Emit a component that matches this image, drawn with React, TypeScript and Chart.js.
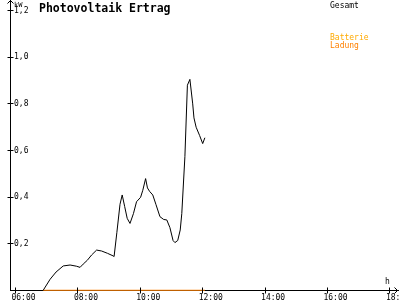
import React, { useEffect, useRef } from "react";
import { Chart, registerables } from "chart.js";

Chart.register(...registerables);

// Time of day in hours, value in kW
const gesamtTimes = [
  6.88, 7.11, 7.3, 7.53, 7.75, 7.95, 8.07, 8.17, 8.3, 8.44, 8.6, 8.76, 8.95, 9.13, 9.16,
  9.25, 9.35, 9.42, 9.5, 9.58, 9.67, 9.78, 9.88, 10.01, 10.08, 10.17, 10.23, 10.3, 10.4,
  10.5, 10.63, 10.75, 10.85, 10.95, 11.05, 11.11, 11.2, 11.28, 11.33, 11.43, 11.51, 11.59,
  11.68, 11.72, 11.79, 11.9, 12.0, 12.07,
];
const gesamtValues = [
  0, 0.049, 0.08, 0.106, 0.11, 0.105, 0.1, 0.114, 0.13, 0.153, 0.174, 0.17, 0.16, 0.149, 0.146,
  0.25, 0.37, 0.41, 0.36, 0.31, 0.288, 0.33, 0.381, 0.4, 0.43, 0.48, 0.44, 0.425, 0.41,
  0.37, 0.317, 0.305, 0.303, 0.27, 0.215, 0.206, 0.215, 0.26, 0.33, 0.574, 0.88, 0.905,
  0.8, 0.74, 0.7, 0.665, 0.63, 0.655,
];
const batterieTimes = [6.88, 12.07];
const batterieValues = [0, 0];

const xTickHours = [6, 8, 10, 12, 14, 16, 18];
const yTickValues = [0.2, 0.4, 0.6, 0.8, 1.0, 1.2];

const titleText = "Photovoltaik Ertrag";
const legendGesamt = "Gesamt";
const legendBatterie1 = "Batterie";
const legendBatterie2 = "Ladung";
const yUnit = "kW";
const xUnit = "h";

const MONO = '"DejaVu Sans Mono", monospace';

const decorPlugin = {
  id: "decor",
  afterDraw(chart: any) {
    const ctx = chart.ctx;
    const area = chart.chartArea;
    const xs = chart.scales.x;
    const ys = chart.scales.y;
    const ax = Math.round(area.left - 0.5) + 0.5;
    const ay = Math.round(area.bottom - 0.5) + 0.5;
    ctx.save();
    ctx.strokeStyle = "#000";
    ctx.lineWidth = 1;
    ctx.beginPath();
    // x tick crosses
    xs.ticks.forEach((t: any) => {
      const px = Math.round(xs.getPixelForValue(t.value) - 0.5) + 0.5;
      ctx.moveTo(px, ay - 3);
      ctx.lineTo(px, ay + 3);
    });
    // y tick crosses
    ys.ticks.forEach((t: any) => {
      const py = Math.round(ys.getPixelForValue(t.value) - 0.5) + 0.5;
      ctx.moveTo(ax - 3, py);
      ctx.lineTo(ax + 3, py);
    });
    // y axis arrow
    ctx.moveTo(ax, area.top);
    ctx.lineTo(ax, 0);
    ctx.moveTo(ax - 3, 3.5);
    ctx.lineTo(ax, 0.5);
    ctx.lineTo(ax + 3, 3.5);
    // x axis arrow
    const rx = area.right;
    ctx.moveTo(rx - 3.5, ay - 3);
    ctx.lineTo(rx - 0.5, ay);
    ctx.lineTo(rx - 3.5, ay + 3);
    ctx.stroke();

    ctx.fillStyle = "#000";
    ctx.textBaseline = "alphabetic";
    ctx.textAlign = "left";
    ctx.font = `7px ${MONO}`;
    ctx.fillText(yUnit, 14, 7);
    ctx.font = `8px ${MONO}`;
    ctx.fillText(xUnit, 385, 284);

    ctx.font = `bold 11.5px ${MONO}`;
    ctx.fillText(titleText, 39, 12);

    ctx.font = `8px ${MONO}`;
    ctx.fillStyle = "#000";
    ctx.fillText(legendGesamt, 330, 8);
    ctx.fillStyle = "#ffaa00";
    ctx.fillText(legendBatterie1, 330, 40);
    ctx.fillStyle = "#ff8000";
    ctx.fillText(legendBatterie2, 330, 48);
    ctx.restore();
  },
};

export default function App() {
  const ref = useRef<HTMLCanvasElement | null>(null);
  useEffect(() => {
    document.body.style.margin = "0";
    if (!ref.current) return;
    const chart = new Chart(ref.current, {
      type: "line",
      data: {
        datasets: [
          {
            label: legendGesamt,
            data: gesamtTimes.map((t, i) => ({ x: t, y: gesamtValues[i] })),
            borderColor: "#000",
            borderWidth: 1,
            pointRadius: 0,
            tension: 0,
            fill: false,
          },
          {
            label: legendBatterie1 + " " + legendBatterie2,
            data: batterieTimes.map((t, i) => ({ x: t, y: batterieValues[i] })),
            borderColor: "#ff8000",
            borderWidth: 2,
            pointRadius: 0,
            tension: 0,
            fill: false,
          },
        ],
      },
      options: {
        animation: false,
        responsive: false,
        maintainAspectRatio: false,
        layout: { padding: { top: 3, right: 2, left: 0, bottom: 0 } },
        plugins: {
          legend: { display: false },
          title: { display: false },
          tooltip: { enabled: false },
        },
        scales: {
          x: {
            type: "linear",
            min: 5.824,
            max: 18.26,
            grid: { display: false, drawTicks: false, tickLength: 0 },
            border: { display: true, color: "#000", width: 1 },
            afterBuildTicks: (scale: any) => {
              scale.ticks = xTickHours.map((v) => ({ value: v }));
            },
            afterFit: (scale: any) => {
              scale.height = 9.3;
              scale.paddingLeft = 0;
              scale.paddingRight = 0;
            },
            ticks: {
              autoSkip: false,
              maxRotation: 0,
              minRotation: 0,
              align: "start",
              labelOffset: -4,
              padding: 2,
              color: "#000",
              font: { family: MONO, size: 8 },
              callback: (v: any) => String(v).padStart(2, "0") + ":00",
            },
          },
          y: {
            type: "linear",
            min: 0,
            max: 1.232,
            grid: { display: false, drawTicks: false, tickLength: 0 },
            border: { display: true, color: "#000", width: 1 },
            afterBuildTicks: (scale: any) => {
              scale.ticks = yTickValues.map((v) => ({ value: v }));
            },
            afterFit: (scale: any) => {
              scale.width = 10;
              scale.paddingTop = 0;
              scale.paddingBottom = 0;
            },
            ticks: {
              mirror: true,
              autoSkip: false,
              padding: 4,
              color: "#000",
              font: { family: MONO, size: 8 },
              callback: (v: any) => Number(v).toFixed(1).replace(".", ","),
            },
          },
        },
      },
      plugins: [decorPlugin],
    });
    return () => chart.destroy();
  }, []);
  return (
    <div style={{ position: "absolute", left: 0, top: 0, width: 400, height: 300 }}>
      <canvas ref={ref} width={400} height={300} />
    </div>
  );
}
